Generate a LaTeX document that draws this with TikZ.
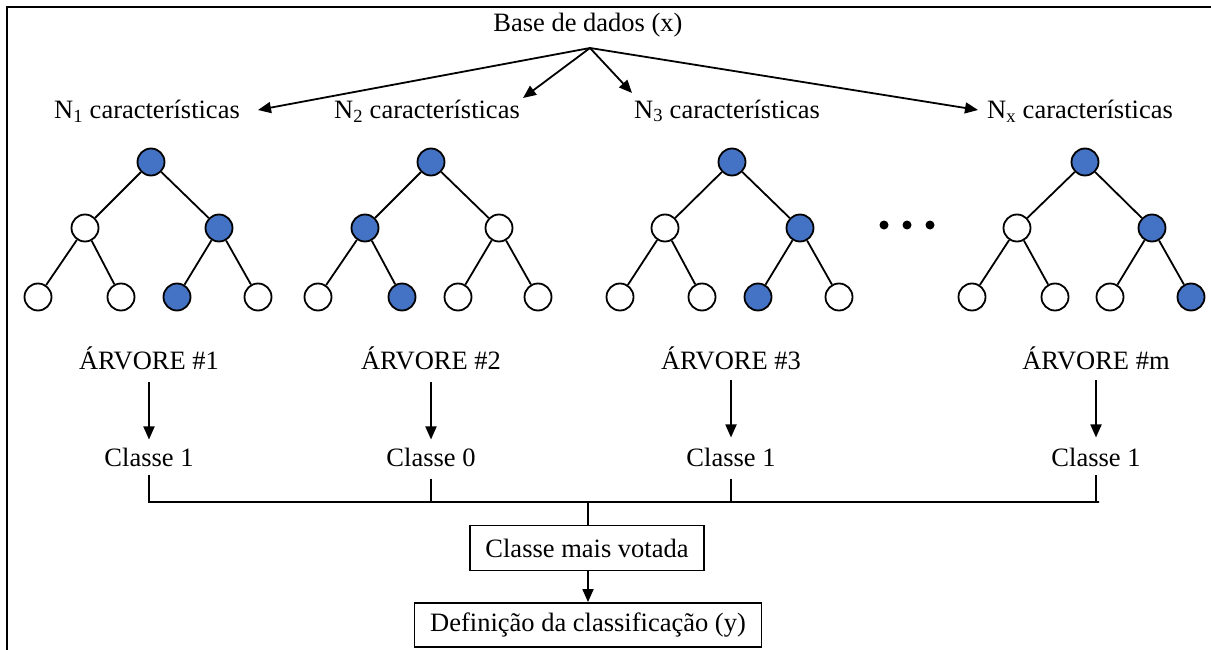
\documentclass[tikz,border=0pt]{standalone}
\usepackage{fontspec}
\setmainfont{Liberation Serif}
\usetikzlibrary{arrows.meta}
\definecolor{nodeblue}{HTML}{4472C4}
\begin{document}
\begin{tikzpicture}[x=1pt,y=-1pt,
  lbl/.style={font=\fontsize{26.5}{31}\selectfont, inner sep=0pt, anchor=center},
  wn/.style={circle, draw, line width=1.8pt, minimum size=27pt, inner sep=0pt, fill=white},
  bn/.style={wn, fill=nodeblue},
  edge/.style={line width=1.8pt},
  arr/.style={line width=1.8pt, -{Triangle[length=13pt,width=11pt]}},
  vbox/.style={draw, line width=1.8pt, font=\fontsize{26.5}{31}\selectfont, inner sep=0pt, anchor=center},
  dot/.style={circle, fill=black, minimum size=9pt, inner sep=0pt}]
\useasboundingbox (0,0) rectangle (1211,650);
% frame
\draw[line width=2pt] (7,660) -- (7,7) -- (1220,7);

% top
\node[lbl] (base) at (588,25) {Base de dados (x)};
\coordinate (fan) at (590,48);
\node[lbl] (n1) at (147,111) {N\textsubscript{1} características};
\node[lbl] (n2) at (427,111) {N\textsubscript{2} características};
\node[lbl] (n3) at (727,111) {N\textsubscript{3} características};
\node[lbl] (nx) at (1080,111) {N\textsubscript{x} características};
\coordinate (t1) at (258,110);
\coordinate (t2) at (523,98);
\coordinate (t3) at (632,93);
\coordinate (t4) at (978,110);
\draw[arr] (fan) -- (t1);
\draw[arr] (fan) -- (t2);
\draw[arr] (fan) -- (t3);
\draw[arr] (fan) -- (t4);

% tree 1
\node[bn] (a0) at (151,162) {};
\node[wn] (a1) at (85,228) {};
\node[bn] (a2) at (219,228) {};
\node[wn] (a3) at (38,297) {};
\node[wn] (a4) at (121,297) {};
\node[bn] (a5) at (177,297) {};
\node[wn] (a6) at (258,297) {};
\draw[edge] (a0) -- (a1); \draw[edge] (a0) -- (a2);
\draw[edge] (a1) -- (a3); \draw[edge] (a1) -- (a4);
\draw[edge] (a2) -- (a5); \draw[edge] (a2) -- (a6);

% tree 2
\node[bn] (b0) at (431,162) {};
\node[bn] (b1) at (365,228) {};
\node[wn] (b2) at (499,228) {};
\node[wn] (b3) at (318,297) {};
\node[bn] (b4) at (402,297) {};
\node[wn] (b5) at (458,297) {};
\node[wn] (b6) at (538,297) {};
\draw[edge] (b0) -- (b1); \draw[edge] (b0) -- (b2);
\draw[edge] (b1) -- (b3); \draw[edge] (b1) -- (b4);
\draw[edge] (b2) -- (b5); \draw[edge] (b2) -- (b6);

% tree 3
\node[bn] (c0) at (732,162) {};
\node[wn] (c1) at (665,228) {};
\node[bn] (c2) at (800,228) {};
\node[wn] (c3) at (620,297) {};
\node[wn] (c4) at (702,297) {};
\node[bn] (c5) at (758,297) {};
\node[wn] (c6) at (839,297) {};
\draw[edge] (c0) -- (c1); \draw[edge] (c0) -- (c2);
\draw[edge] (c1) -- (c3); \draw[edge] (c1) -- (c4);
\draw[edge] (c2) -- (c5); \draw[edge] (c2) -- (c6);

% tree m
\node[bn] (d0) at (1085,162) {};
\node[wn] (d1) at (1017,228) {};
\node[bn] (d2) at (1152,228) {};
\node[wn] (d3) at (972,297) {};
\node[wn] (d4) at (1055,297) {};
\node[wn] (d5) at (1110,297) {};
\node[bn] (d6) at (1191,297) {};
\draw[edge] (d0) -- (d1); \draw[edge] (d0) -- (d2);
\draw[edge] (d1) -- (d3); \draw[edge] (d1) -- (d4);
\draw[edge] (d2) -- (d5); \draw[edge] (d2) -- (d6);

% dots
\node[dot] (p1) at (884,225) {};
\node[dot] (p2) at (907,225) {};
\node[dot] (p3) at (930,225) {};

% arvore labels
\node[lbl] (r1) at (149,358) {ÁRVORE \#1};
\node[lbl] (r2) at (431,358) {ÁRVORE \#2};
\node[lbl] (r3) at (731,358) {ÁRVORE \#3};
\node[lbl] (r4) at (1096,358) {ÁRVORE \#m};

% classes
\node[lbl] (k1) at (149,457) {Classe 1};
\node[lbl] (k2) at (431,457) {Classe 0};
\node[lbl] (k3) at (731,457) {Classe 1};
\node[lbl] (k4) at (1096,457) {Classe 1};

\draw[arr, shorten <=12pt, shorten >=8pt] (r1.south) -- (k1.north);
\draw[arr, shorten <=12pt, shorten >=8pt] (r2.south) -- (k2.north);
\draw[arr, shorten <=10pt, shorten >=10pt] (r3.south) -- (k3.north);
\draw[arr, shorten <=10pt, shorten >=10pt] (r4.south) -- (k4.north);

% boxes
\node[vbox, minimum width=234pt, minimum height=45pt] (vote) at (587,548) {Classe mais votada};
\node[vbox, minimum width=347pt, minimum height=44pt] (def) at (588,625) {Definição da classificação (y)};

% bracket
\coordinate (j) at (588,502);
\coordinate (jl) at (150,502);
\coordinate (jr) at (1099,502);
\draw[edge] ([yshift=-8pt]k1.south) -- (k1.south |- jl) -- (jr) -- (k4.south |- jr) -- ([yshift=-8pt]k4.south);
\draw[edge] ([yshift=-12pt]k2.south) -- (k2.south |- j);
\draw[edge] ([yshift=-12pt]k3.south) -- (k3.south |- j);
\draw[edge] (j) -- (vote.north -| j);
\draw[arr] (vote.south -| j) -- (def.north -| j);
\end{tikzpicture}
\end{document}
